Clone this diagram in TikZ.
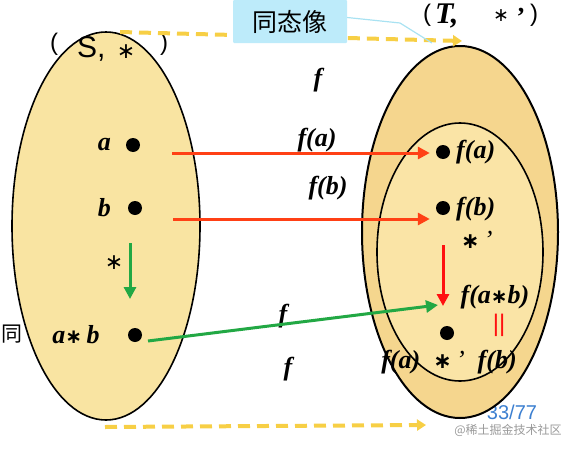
\documentclass[tikz,border=0pt]{standalone}
\usepackage{fontspec}
\setmainfont{Liberation Serif}
\newfontfamily\cjkf{Noto Sans CJK SC}
\newfontfamily\sansf{Liberation Sans}
\newfontfamily\symf{DejaVu Sans}
\usetikzlibrary{arrows.meta}
\definecolor{leftfill}{HTML}{F9E4A2}
\definecolor{outerfill}{HTML}{F5D68E}
\definecolor{innerfill}{HTML}{FAE4A6}
\definecolor{redA}{HTML}{FF4015}
\definecolor{redV}{HTML}{FF1010}
\definecolor{greenA}{HTML}{22A844}
\definecolor{yellowD}{HTML}{F7CF45}
\definecolor{cyanL}{HTML}{A9E2F2}
\definecolor{boxfill}{HTML}{BDEBFA}
\definecolor{pageblue}{HTML}{3C7FD0}
\newcommand\lbf{\fontsize{26}{26}\selectfont\bfseries\itshape}
\newcommand\myast{{\symf\upshape\mdseries ∗}}
\newcommand\bast{{\symf\upshape\bfseries ∗}}
\tikzset{
  ell/.style={draw=black, line width=1.6pt},
  dotnode/.style={circle, fill=black, inner sep=0pt, minimum size=14pt},
  lab/.style={font=\lbf, inner sep=0pt},
  tip/.style={-{Triangle[length=12pt,width=12pt]}},
  redarr/.style={tip, draw=redA, line width=3pt},
  redvarr/.style={tip, draw=redV, line width=3pt},
  greenarr/.style={tip, draw=greenA, line width=3pt},
  dasharr/.style={-{Triangle[length=9pt,width=11pt]}, draw=yellowD, line width=4pt, dash pattern=on 12pt off 7pt},
}
\begin{document}
\begin{tikzpicture}[x=1pt,y=-1pt]
\useasboundingbox (0,0) rectangle (576,450);
% background texts
\node[font=\cjkf\fontsize{21}{21}\selectfont, anchor=west, inner sep=0pt] (tong) at (1,334) {同};
\node[font=\sansf\fontsize{20}{20}\selectfont, text=pageblue, inner sep=0pt] (pg) at (512,412) {33/77};
\node[font=\cjkf\fontsize{12}{12}\selectfont, text=gray!80, inner sep=0pt] (wm) at (508,430) {@稀土掘金技术社区};
% sets
\draw[ell, fill=leftfill] (106,226) ellipse [x radius=94pt, y radius=194pt];
\draw[ell, fill=outerfill, line width=2pt] (460,232) ellipse [x radius=98pt, y radius=186pt];
\draw[ell, fill=innerfill] (460,252) ellipse [x radius=83pt, y radius=129pt];
% set labels
\node[font=\sansf\fontsize{24}{24}\selectfont, inner sep=0pt] (lpS) at (54,44) {(};
\node[font=\sansf\fontsize{30}{30}\selectfont, inner sep=0pt, anchor=base west] (S) at (77,57) {S,};
\node[font=\fontsize{22}{22}\selectfont, inner sep=0pt] (astS) at (126,52) {\myast};
\node[font=\sansf\fontsize{24}{24}\selectfont, inner sep=0pt] (rpS) at (164,44) {)};
\node[font=\sansf\fontsize{24}{24}\selectfont, inner sep=0pt] (lpT) at (427,15) {(};
\node[font=\fontsize{30}{30}\selectfont\bfseries\itshape, inner sep=0pt, anchor=base west] (T) at (435,23) {T,};
\node[font=\fontsize{19}{19}\selectfont, inner sep=0pt] (astT) at (501,16) {\myast};
\node[font=\fontsize{26}{26}\selectfont\bfseries, inner sep=0pt, anchor=base] (prT) at (521,25) {’};
\node[font=\sansf\fontsize{24}{24}\selectfont, inner sep=0pt] (rpT) at (534,15) {)};
% dashed arrows
\coordinate (dt1) at (120,32);
\coordinate (dt2) at (462,41);
\coordinate (db1) at (105,427);
\coordinate (db2) at (426,425);
\draw[dasharr] (dt1) -- (dt2);
\draw[dasharr] (db1) -- (db2);
% callout box
\node[fill=boxfill, rounded corners=1pt, minimum width=114pt, minimum height=43pt, inner sep=0pt,
      font=\cjkf\fontsize{25}{25}\selectfont] (hom) at (290,21.5) {同态像};
\coordinate (cb) at (400,23);
\coordinate (ce) at (432,43);
\draw[cyanL, line width=1.2pt] ([yshift=4pt]hom.east) -- (cb) -- (ce);
% points in S
\node[dotnode] (a) at (133,145) {};
\node[dotnode] (b) at (135,208) {};
\node[dotnode] (ab) at (135,335) {};
\node[lab, anchor=east] (la) at (111,145) {a};
\node[lab, anchor=east] (lb) at (111,208) {b};
\node[lab] (lab) at (76,335) {a{\fontsize{20}{20}\selectfont\bast}\,b};
\node[font=\fontsize{22}{22}\selectfont, inner sep=0pt] (lstar) at (114,263) {\myast};
% points in T
\node[dotnode] (fa) at (443,152) {};
\node[dotnode] (fb) at (443,208) {};
\node[dotnode] (fab) at (447,333) {};
\node[lab, anchor=west] (lfa) at (456,152) {f(a)};
\node[lab, anchor=west] (lfb) at (456,209) {f(b)};
\node[lab, anchor=west] (lop) at (461,240) {{\fontsize{22}{22}\selectfont\bast}\,\normalfont\itshape'};
\node[lab] (lfab) at (495,297) {f(a{\fontsize{20}{20}\selectfont\bast}b)};
\node[font=\sansf\fontsize{24}{24}\selectfont, text=redV, inner sep=0pt] (eq) at (499,325) {||};
\node[lab] (lprod) at (449,362) {f(a)\enspace{\fontsize{22}{22}\selectfont\bast}\,\normalfont\itshape'\enspace\bfseries f(b)};
% f labels
\node[lab] (f1) at (318,80) {f};
\node[lab] (f2) at (317,140) {f(a)};
\node[lab] (f3) at (328,188) {f(b)};
\node[lab] (f4) at (283,316) {f};
\node[lab] (f5) at (288,369) {f};
% arrows
\coordinate (aS) at (172,153);
\coordinate (bS) at (173,219);
\draw[redarr, shorten >=6pt] (aS) -- (aS -| fa.west);
\draw[redarr, shorten >=6pt] (bS) -- (bS -| fb.west);
\coordinate (gs) at (130,243);
\coordinate (ge) at (130,299);
\draw[greenarr] (gs) -- (ge);
\coordinate (abS) at (148,341);
\coordinate (abE) at (438,305);
\draw[greenarr] (abS) -- (abE);
\coordinate (rs) at (443,245);
\coordinate (re) at (443,306);
\draw[redvarr] (rs) -- (re);
\end{tikzpicture}
\end{document}
